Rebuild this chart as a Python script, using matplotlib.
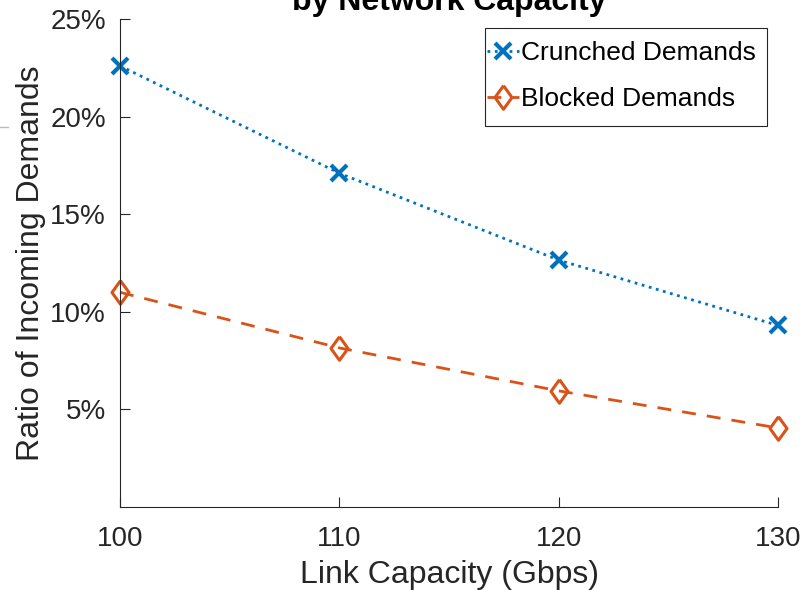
import matplotlib
matplotlib.use("Agg")
import matplotlib.pyplot as plt
from matplotlib.lines import Line2D
from matplotlib.patches import Rectangle
from matplotlib.ticker import FuncFormatter

plt.rcParams['font.family'] = ['Liberation Sans', 'DejaVu Sans']

# link capacity (Gbps) and ratios (%)
capacity = [100, 110, 120, 130]
crunched = [22.6, 17.1, 12.65, 9.3]
blocked = [11.0, 8.15, 5.95, 4.05]
yticks = [5, 10, 15, 20, 25]

diamond = [(0, 1), (0.72, 0), (0, -1), (-0.72, 0), (0, 1)]

fig = plt.figure(figsize=(8.03, 5.90), dpi=100)
ax = fig.add_axes([120/803, 1-507/590, 658/803, 488/590])

ax.plot(capacity, crunched, color="#0072BD", linestyle=":", linewidth=2,
        marker="x", markersize=12, markeredgewidth=3, clip_on=False,
        label="Crunched Demands")
ax.plot(capacity, blocked, color="#D95319", linestyle=(0, (5, 4)), linewidth=2,
        marker=diamond, markersize=17, markeredgewidth=2.2, markerfacecolor="none",
        clip_on=False, label="Blocked Demands")

ax.set_xlim(100, 130)
ax.set_ylim(0, 25)
ax.set_xticks(capacity)
ax.set_yticks(yticks)
ax.yaxis.set_major_formatter(FuncFormatter(lambda v, p: "%d%%" % v))
ax.tick_params(direction="in", length=7, labelsize=20, colors="#262626", pad=10)
ax.tick_params(axis="x", pad=13.5)
ax.spines["top"].set_visible(False)
ax.spines["right"].set_visible(False)
for s in ["left", "bottom"]:
    ax.spines[s].set_color("#262626")
    ax.spines[s].set_linewidth(0.8)

ax.set_xlabel("Link Capacity (Gbps)", fontsize=23, color="#262626", labelpad=6)
ax.set_ylabel("Ratio of Incoming Demands", fontsize=23, color="#262626", labelpad=3)

fig.text(449/803, 1-10/590, "by Network Capacity", ha="center", va="baseline",
         fontsize=23, fontweight="bold", color="black")

# legend: entries without frame, box drawn separately (MATLAB-tight padding)
leg = ax.legend(loc="center left", bbox_to_anchor=(487/803, 1-76/590),
                bbox_transform=fig.transFigure, fontsize=19, frameon=False,
                handlelength=1.2, handletextpad=0.1, borderaxespad=0,
                borderpad=0, labelspacing=0.85)
fig.add_artist(Rectangle((485/803, 1-126/590), 282/803, 98/590,
                         transform=fig.transFigure, facecolor="none",
                         edgecolor="#262626", linewidth=0.8))

# stray grey mark at the left edge of the original image
fig.add_artist(Line2D([0, 8/803], [1-127/590, 1-127/590], color="#bbbbbb",
                      linewidth=1, transform=fig.transFigure))

fig.savefig("out.png", dpi=100)
